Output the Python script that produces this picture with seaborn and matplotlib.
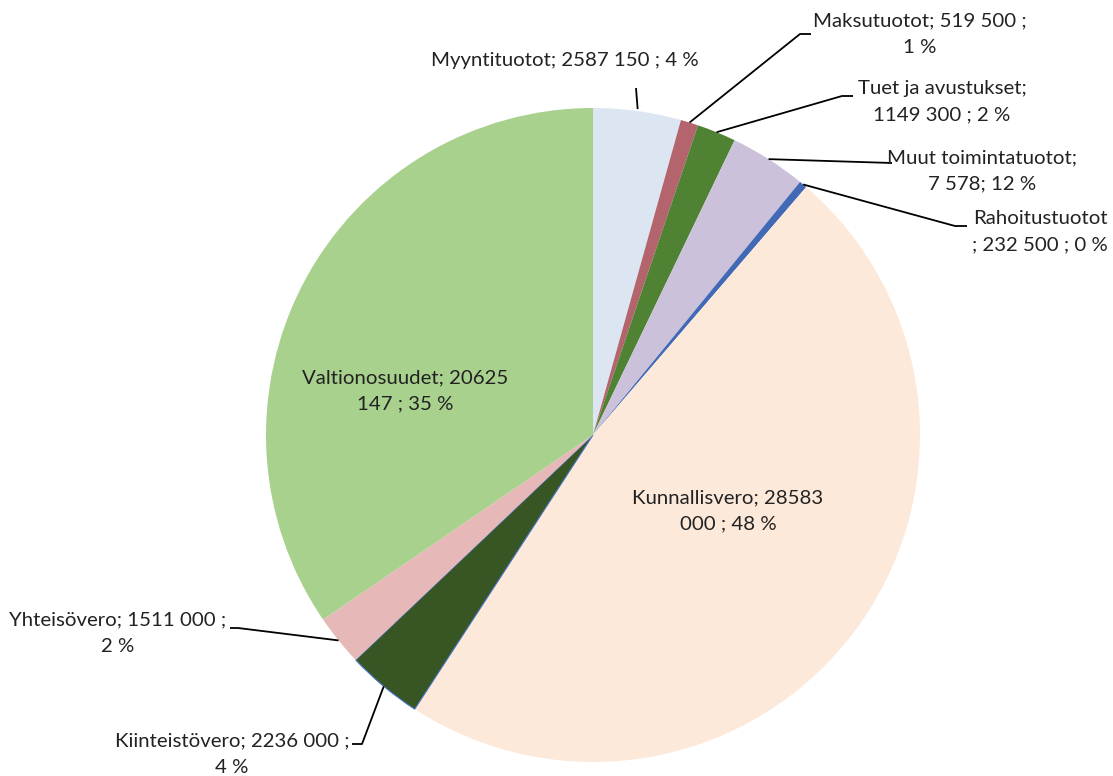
import numpy as np
import matplotlib.pyplot as plt
import seaborn as sns

# Tulot (tuloslaskelma), piirakka myötäpäivään klo 12:sta
categories = ["Myyntituotot", "Maksutuotot", "Tuet ja avustukset", "Muut toimintatuotot",
              "Rahoitustuotot", "Kunnallisvero", "Kiinteistövero", "Yhteisövero", "Valtionosuudet"]
values = [2587150, 519500, 1149300, 2260000, 232500, 28583000, 2236000, 1511000, 20625147]
label_texts = [
    "Myyntituotot; 2587 150 ; 4 %",
    "Maksutuotot; 519 500 ;\n1 %",
    "Tuet ja avustukset;\n1149 300 ; 2 %",
    "Muut toimintatuotot;\n7 578; 12 %",
    "Rahoitustuotot\n; 232 500 ; 0 %",
    "Kunnallisvero; 28583\n000 ; 48 %",
    "Kiinteistövero; 2236 000 ;\n4 %",
    "Yhteisövero; 1511 000 ;\n2 %",
    "Valtionosuudet; 20625\n147 ; 35 %",
]
colors = ["#dce6f2", "#b3646d", "#4f8233", "#ccc1da", "#4169b5",
          "#fde9da", "#375623", "#e6b8b7", "#a9d18e"]

# layout in pixels: label centre, leader points from label towards slice (None = inside)
W, H = 1113, 776
CX, CY, R = 593, 435, 327
label_pos = [(565, 60), (920, 34), (942, 102), (982, 171), (1040, 232),
             (728, 511), (232, 754), (118, 633), (405, 391)]
leaders = [
    [(636, 88)],
    [(811, 34), (800, 34)],
    [(853, 96), (842, 96)],
    [(892, 163)],
    [(967, 226), (955, 226)],
    None,
    [(352, 744), (362, 744)],
    [(230, 628), (238, 628)],
    None,
]


def px(x, y):
    return (x - CX) / R, (CY - y) / R


sns.set_style("white")
plt.rcParams['font.family'] = ['Lato', 'DejaVu Sans']

fig = plt.figure(figsize=(11.13, 7.76), dpi=100)
ax = fig.add_axes([0, 0, 1, 1])
wedges, _ = ax.pie(values, colors=colors, startangle=90, counterclock=False,
                   radius=1, wedgeprops=dict(linewidth=0))
wedges[6].set_edgecolor("#4472c4")
wedges[6].set_linewidth(0.8)

for w, txt, pos, lead in zip(wedges, label_texts, label_pos, leaders):
    tx, ty = px(*pos)
    ax.text(tx, ty, txt, ha='center', va='center', fontsize=14.7,
            color='#222222', linespacing=1.68)
    if lead is None:
        continue
    mid = np.deg2rad((w.theta1 + w.theta2) / 2)
    r = 1.006 if w is wedges[0] else 1.0
    pts = [px(*p) for p in lead] + [(r * np.cos(mid), r * np.sin(mid))]
    xs, ys = zip(*pts)
    ax.plot(xs, ys, color='black', lw=1.3, solid_capstyle='butt')

ax.set_xlim(-CX / R, (W - CX) / R)
ax.set_ylim(-(H - CY) / R, CY / R)
ax.set_aspect('auto')
ax.axis('off')

fig.savefig('out.png', dpi=100)
